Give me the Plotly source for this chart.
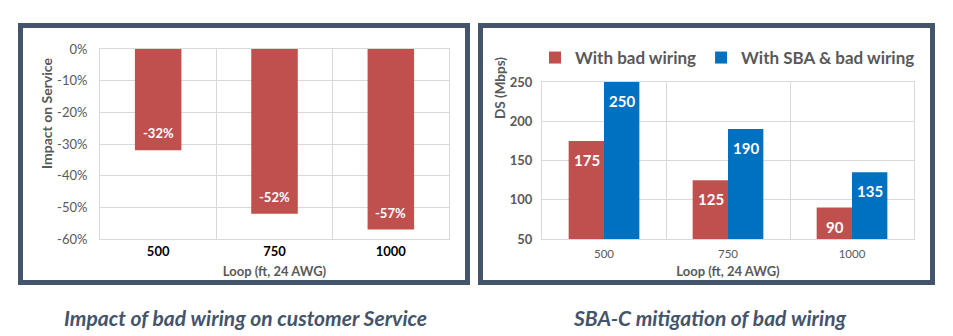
import plotly.graph_objects as go

# ---- data ----
loops = ["500", "750", "1000"]
impact = [-0.32, -0.52, -0.57]
bad_wiring = [175, 125, 90]
sba_bad_wiring = [250, 190, 135]
series_names = ["With bad wiring", "With SBA & bad wiring"]
captions = ["Impact of bad wiring on customer Service", "SBA-C mitigation of bad wiring"]
impact_tickvals = [0, -0.1, -0.2, -0.3, -0.4, -0.5, -0.6]
impact_ticktext = ["0%", "-10%", "-20%", "-30%", "-40%", "-50%", "-60%"]
impact_labels = ["-32%", "-52%", "-57%"]

W, H = 953, 336
RED = "#C0504D"
BLUE = "#0070C0"
FRAME = "#44546A"
GRID = "#D9D9D9"
TXT = "#595959"
FONT = "Lato"

def px(x):
    return x / W

def py(y):
    return (H - y) / H

fig = go.Figure()

fig.add_trace(go.Bar(x=loops, y=impact, marker_color=RED, width=0.4,
                     showlegend=False, xaxis="x", yaxis="y", hoverinfo="skip"))
fig.add_trace(go.Bar(x=loops, y=bad_wiring, name=series_names[0], marker_color=RED,
                     xaxis="x2", yaxis="y2", hoverinfo="skip"))
fig.add_trace(go.Bar(x=loops, y=sba_bad_wiring, name=series_names[1], marker_color=BLUE,
                     xaxis="x2", yaxis="y2", hoverinfo="skip"))

annotations = []
for i, (v, lab) in enumerate(zip(impact, impact_labels)):
    annotations.append(dict(x=i, y=v, xref="x", yref="y", text=f"<b>{lab}</b>",
                            showarrow=False, yshift=17, font=dict(family=FONT, size=13, color="white")))
for i, v in enumerate(bad_wiring):
    annotations.append(dict(x=i, y=v, xref="x2", yref="y2", text=f"<b>{v}</b>", xshift=-17.5,
                            showarrow=False, yshift=-19, font=dict(family=FONT, size=15, color="white")))
for i, v in enumerate(sba_bad_wiring):
    annotations.append(dict(x=i, y=v, xref="x2", yref="y2", text=f"<b>{v}</b>", xshift=17.5,
                            showarrow=False, yshift=-19, font=dict(family=FONT, size=15, color="white")))

# axis titles (placed like the reference, off-centre)
annotations.append(dict(x=px(46), y=py(114), xref="paper", yref="paper", showarrow=False,
                        textangle=-90, xanchor="center", yanchor="middle",
                        text="<b>Impact on Service</b>", font=dict(family=FONT, size=14, color=TXT)))
annotations.append(dict(x=px(500), y=py(88), xref="paper", yref="paper", showarrow=False,
                        textangle=-90, xanchor="center", yanchor="middle",
                        text="<b>DS (Mbps)</b>", font=dict(family=FONT, size=13.5, color=TXT)))

annotations.append(dict(x=px(245), y=py(317), xref="paper", yref="paper", showarrow=False,
                        xanchor="center", yanchor="middle",
                        text=f"<b><i>{captions[0]}</i></b>",
                        font=dict(family=FONT, size=21, color=FRAME)))
annotations.append(dict(x=px(709), y=py(317), xref="paper", yref="paper", showarrow=False,
                        xanchor="center", yanchor="middle",
                        text=f"<b><i>{captions[1]}</i></b>",
                        font=dict(family=FONT, size=21, color=FRAME)))

shapes = [
    dict(type="rect", xref="paper", yref="paper", x0=px(20.5), x1=px(467.5), y0=py(25.5), y1=py(282.5),
         line=dict(color=FRAME, width=5), layer="below"),
    dict(type="rect", xref="paper", yref="paper", x0=px(480.5), x1=px(932.5), y0=py(25.5), y1=py(282.5),
         line=dict(color=FRAME, width=5), layer="below"),
]

axis_common = dict(showgrid=True, gridcolor=GRID, gridwidth=1, showline=True, linecolor=GRID,
                   linewidth=1, mirror=True, zeroline=False, ticks="", automargin=False)

fig.update_layout(
    template="none",
    width=W, height=H, margin=dict(l=0, r=0, t=0, b=0, autoexpand=False),
    paper_bgcolor="white", plot_bgcolor="white",
    barmode="group", bargap=0.43, bargroupgap=0,
    font=dict(family=FONT, color=TXT),
    xaxis=dict(domain=[px(100), px(449)], anchor="y", type="category", tickson="boundaries",
               range=[-0.5, 2.5], tickangle=0,
               tickfont=dict(family=FONT, size=13, color="black", weight="bold"),
               title=dict(text="<b>Loop (ft, 24 AWG)</b>", font=dict(size=13, color=TXT), standoff=9),
               **axis_common),
    yaxis=dict(domain=[py(239), py(49)], anchor="x", range=[-0.6, 0],
               tickvals=impact_tickvals, ticktext=impact_ticktext, ticklabelstandoff=9,
               tickfont=dict(family=FONT, size=13, color=TXT),
               **axis_common),
    xaxis2=dict(domain=[px(542), px(914)], anchor="y2", type="category", tickson="boundaries",
                range=[-0.5, 2.5], tickangle=0, ticklabelstandoff=4,
                tickfont=dict(family=FONT, size=11.5, color=TXT),
                title=dict(text="<b>Loop (ft, 24 AWG)</b>", font=dict(size=13, color=TXT), standoff=8),
                **axis_common),
    yaxis2=dict(domain=[py(239), py(82)], anchor="x2", range=[50, 250], dtick=50,
                ticklabelstandoff=6,
                tickfont=dict(family=FONT, size=13, color=TXT, weight="bold"),
                **axis_common),
    legend=dict(orientation="h", x=px(535), y=py(58), xanchor="left", yanchor="middle",
                itemwidth=30,
                font=dict(family=FONT, size=17, color=TXT, weight="bold"), bgcolor="rgba(0,0,0,0)"),
    annotations=annotations,
    shapes=shapes,
)

fig.write_html("out.html")
